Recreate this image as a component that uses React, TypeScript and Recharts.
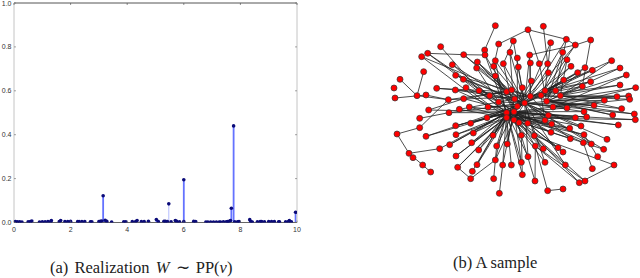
import React from "react";
import { ScatterChart, Scatter, XAxis, YAxis, ErrorBar, ReferenceLine } from "recharts";

const atomX = [0.05,0.12,0.2,0.28,0.5,0.58,0.63,0.9,1.0,1.1,1.2,1.3,1.32,1.6,1.65,1.8,1.9,2.0,2.25,2.3,2.4,2.5,2.7,2.75,3.0,3.05,3.1,3.15,3.22,3.28,3.45,3.88,3.95,4.18,4.3,4.35,4.5,4.6,4.75,5.03,5.1,5.3,5.35,5.42,5.55,5.7,5.75,5.85,6.0,6.0,6.35,6.42,6.78,6.85,6.95,7.05,7.15,7.25,7.3,7.4,7.5,7.55,7.6,7.65,7.68,7.76,7.8,7.9,7.95,8.33,8.37,8.42,8.6,8.7,8.75,8.85,9.0,9.1,9.2,9.35,9.38,9.6,9.7,9.73,9.8,9.95];
const atomW = [0.004,0.003,0.003,0.002,0.003,0.004,0.007,0.002,0.003,0.003,0.004,0.004,0.009,0.004,0.009,0.004,0.004,0.005,0.004,0.004,0.004,0.004,0.003,0.003,0.004,0.005,0.007,0.122,0.01,0.005,0.002,0.003,0.003,0.004,0.004,0.009,0.004,0.004,0.006,0.014,0.004,0.006,0.005,0.004,0.003,0.009,0.005,0.003,0.195,0.004,0.005,0.004,0.002,0.002,0.002,0.002,0.002,0.002,0.002,0.003,0.003,0.004,0.005,0.009,0.065,0.44,0.003,0.003,0.004,0.013,0.004,0.002,0.003,0.004,0.004,0.003,0.004,0.004,0.004,0.003,0.003,0.003,0.004,0.009,0.003,0.047];
const faintAtomX = [5.47];
const faintAtomW = [0.085];

const xTicks = [0, 2, 4, 6, 8, 10];
const yTicks = [0, 0.2, 0.4, 0.6, 0.8, 1];
const yTickLabels = ["0.0", "0.2", "0.4", "0.6", "0.8", "1.0"];

const nodeX = [346,444,490,559,632,586,512,400,356,314,315,182,143,125,251,390,449,548,412,346,292,217,370,341,290,451,478,503,561,573,415,615,637,593,505,695,720,739,131,227,346,60,250,454,551,632,720,767,607,42,170,226,258,297,380,395,427,495,527,45,111,138,205,251,329,404,451,483,541,711,746,749,673,356,434,500,642,146,238,268,324,412,519,561,725,207,380,402,612,586,620,698,763,766,119,321,380,402,417,443,495,505,515,272,227,119,569,603,715,51,138,228,280,339,424,463,513,612,571,681,610,634,671,534,549,490,466,382,350,296,275,209,179,87,99,128,152,228,233,291,277,272,346,341,368,394,424,444,495,556,653,637,702,615,598,427,465,358,503,549];
const nodeY = [17,29,19,58,60,75,68,63,72,90,105,80,100,110,104,97,105,97,114,122,126,134,131,139,144,129,131,131,119,139,141,143,151,158,158,122,144,165,155,166,168,178,178,183,180,185,195,203,199,204,205,210,203,212,215,210,203,212,212,234,227,225,239,236,227,237,229,226,227,230,228,238,241,246,249,244,256,270,268,261,261,259,261,264,266,278,278,275,275,293,291,285,282,299,295,293,293,300,308,310,301,286,312,310,317,323,325,318,315,342,349,344,339,346,346,347,337,344,356,358,368,372,388,383,396,386,378,372,378,390,368,374,386,400,413,435,456,408,442,434,454,476,420,476,435,435,427,410,427,435,410,446,435,483,488,464,483,520,512,507];

const edgeFrom = [0,9,1,1,1,2,3,3,4,4,5,6,7,7,8,10,10,11,12,12,13,14,15,16,16,17,18,19,20,20,21,22,23,24,25,26,27,28,29,30,31,32,33,34,35,36,37,38,39,40,41,42,43,44,45,46,47,48,50,51,52,53,54,55,56,57,58,59,60,61,62,63,64,69,70,71,72,76,77,78,79,80,83,84,85,88,89,90,91,92,93,94,95,97,98,99,100,101,102,103,104,105,106,107,108,109,109,110,111,112,113,114,115,116,117,118,119,120,121,122,122,123,124,125,126,127,128,129,130,131,132,132,133,135,137,138,139,140,141,141,142,144,145,146,147,148,149,150,151,152,152,153,154,155,156,157,158,158,
13,12,14,21,39,42,50,51,52,53,63,64,73,79,80,78,85,62,72,69,70,71,84,46,47,37,36,35,48,45,44,33,32,31,28,29,17,16,6,5,3,15,19,22,23,40,24,20,10,83,88,89,90,91,92,93,76,77,82,100,101,102,116,117,118,120,121,123,124,125,126,127,113,112,130,131,129,128,138,139,142,144,146,147,148,149,155,156,153,154,143,137,110,111,106,107,108,103,104,95,98,99,97,96,86,87,81,65,66,75,74,96];
const edgeTo = [9,10,8,3,26,27,5,58,5,48,67,57,22,74,23,14,86,53,14,64,80,65,87,5,74,75,81,96,74,54,64,87,86,73,66,75,81,68,67,74,75,66,57,87,68,75,82,60,65,65,60,74,87,74,66,68,82,75,54,65,73,86,87,66,81,67,74,61,62,62,66,54,87,75,68,67,82,75,63,65,96,81,74,75,74,87,87,86,75,74,86,85,74,74,86,87,67,66,86,74,87,62,86,74,87,105,133,74,87,86,86,87,74,87,86,96,74,87,87,74,120,96,87,86,86,86,87,86,96,86,74,133,135,136,96,87,86,86,138,142,97,86,96,87,86,86,86,117,120,115,154,126,126,114,126,144,126,159,
54,86,74,81,66,87,66,86,96,74,87,74,74,87,75,96,86,54,75,66,75,82,68,67,75,68,66,57,66,57,67,67,74,57,75,74,67,66,74,74,66,74,74,74,74,87,54,65,54,86,74,96,87,66,75,96,74,87,87,96,87,96,86,96,74,96,74,87,86,87,87,87,87,96,86,74,87,86,96,96,86,87,86,74,74,74,86,87,115,115,128,74,86,96,96,86,86,86,86,86,87,86,86,87,74,74,74,74,74,67,67,74];

const atoms = atomX.map((x, i) => ({ x, w: atomW[i], stem: [atomW[i], 0] }));
const faintAtoms = faintAtomX.map((x, i) => ({ x, w: faintAtomW[i], stem: [faintAtomW[i], 0] }));
const nodes = nodeX.map((x, i) => ({ x, y: nodeY[i] }));
const edges = edgeFrom.map((a, i) => [a, edgeTo[i]]);

const ink = "#333";

const BottomTick = (p: any) => (
  <g>
    <line x1={p.x} x2={p.x} y1={p.y} y2={p.y - 2} stroke="#666" strokeWidth={0.6} />
    <text x={p.x} y={p.y + 9.5} textAnchor="middle" fontSize={7} fill={ink} fontFamily="'Liberation Sans', Arial, sans-serif">{p.payload.value}</text>
  </g>
);
const LeftTick = (p: any) => (
  <g>
    <line x1={p.x} x2={p.x + 2} y1={p.y} y2={p.y} stroke="#666" strokeWidth={0.6} />
    <text x={p.x - 2.5} y={p.y + 2.5} textAnchor="end" fontSize={7} fill={ink} fontFamily="'Liberation Sans', Arial, sans-serif">
      {yTickLabels[yTicks.indexOf(p.payload.value)]}
    </text>
  </g>
);
const TopTick = (p: any) => <line x1={p.x} x2={p.x} y1={p.y} y2={p.y + 2} stroke="#444" strokeWidth={0.6} />;
const RightTick = (p: any) => <line x1={p.x} x2={p.x - 2} y1={p.y} y2={p.y} stroke="#666" strokeWidth={0.6} />;
const NoMark = () => null;

const Atom = (p: any) => <circle cx={p.cx} cy={p.cy} r={1.8} fill="#0a0a78" />;
const GraphNode = (p: any) => <circle cx={p.cx} cy={p.cy} r={3} fill="#ff0000" stroke="#333" strokeWidth={0.7} />;

const captionStyle: React.CSSProperties = {
  position: "absolute",
  fontFamily: "'Liberation Serif', 'Times New Roman', serif",
  fontSize: 16.5,
  color: "#222",
  whiteSpace: "nowrap",
  lineHeight: "18px",
};

export default function App() {
  return (
    <div style={{ position: "absolute", left: 0, top: 0, width: 640, height: 278, overflow: "hidden", background: "#fff" }}>
      <div style={{ position: "absolute", left: 0, top: 0 }}>
        <ScatterChart width={320} height={278} margin={{ top: 2, right: 22, bottom: 45.5, left: 0 }}>
          <XAxis xAxisId="b" dataKey="x" type="number" domain={[0, 10]} ticks={xTicks} height={10} interval={0} tick={BottomTick} tickLine={false} tickSize={0} tickMargin={0} axisLine={{ stroke: "#666", strokeWidth: 1 }} allowDataOverflow />
          <XAxis xAxisId="t" dataKey="x" orientation="top" type="number" domain={[0, 10]} ticks={xTicks} height={1} interval={0} tick={TopTick} tickLine={false} tickSize={0} tickMargin={0} axisLine={{ stroke: "#555", strokeWidth: 1 }} allowDataOverflow />
          <YAxis yAxisId="l" dataKey="w" type="number" domain={[0, 1]} ticks={yTicks} width={14} interval={0} tick={LeftTick} tickLine={false} tickSize={0} tickMargin={0} axisLine={{ stroke: "#c4c4c4", strokeWidth: 1 }} allowDataOverflow />
          <YAxis yAxisId="r" dataKey="w" orientation="right" type="number" domain={[0, 1]} ticks={yTicks} width={1} interval={0} tick={RightTick} tickLine={false} tickSize={0} tickMargin={0} axisLine={{ stroke: "#c4c4c4", strokeWidth: 1 }} allowDataOverflow />
          <Scatter data={atoms} xAxisId="t" yAxisId="r" shape={NoMark} isAnimationActive={false} />
          <Scatter data={faintAtoms} xAxisId="b" yAxisId="l" shape={Atom} isAnimationActive={false}>
            <ErrorBar dataKey="stem" direction="y" width={0} stroke="#b4bcff" strokeWidth={1} isAnimationActive={false} />
          </Scatter>
          <Scatter data={atoms} xAxisId="b" yAxisId="l" shape={Atom} isAnimationActive={false}>
            <ErrorBar dataKey="stem" direction="y" width={0} stroke="#6472ff" strokeWidth={1.8} isAnimationActive={false} />
          </Scatter>
        </ScatterChart>
      </div>
      <div style={{ ...captionStyle, left: 50, top: 259, wordSpacing: 2 }}>
        (a) Realization <i>W</i> ∼ PP(<i>ν</i>)
      </div>
      <div style={{ position: "absolute", left: 380, top: 20 }}>
        <ScatterChart width={260} height={220} margin={{ top: 0, right: 0, bottom: 0, left: 0 }}>
          <XAxis dataKey="x" type="number" domain={[0, 780]} hide />
          <YAxis dataKey="y" type="number" domain={[0, 660]} reversed hide />
          <Scatter data={nodes} shape={NoMark} isAnimationActive={false} />
          {edges.map(([a, b], i) => (
            <ReferenceLine
              key={i}
              segment={[{ x: nodeX[a], y: nodeY[a] }, { x: nodeX[b], y: nodeY[b] }]}
              stroke="#222"
              strokeWidth={1}
              strokeOpacity={0.8}
            />
          ))}
        </ScatterChart>
      </div>
      <div style={{ position: "absolute", left: 380, top: 20 }}>
        <ScatterChart width={260} height={220} margin={{ top: 0, right: 0, bottom: 0, left: 0 }}>
          <XAxis dataKey="x" type="number" domain={[0, 780]} hide />
          <YAxis dataKey="y" type="number" domain={[0, 660]} reversed hide />
          <Scatter data={nodes} shape={GraphNode} isAnimationActive={false} />
        </ScatterChart>
      </div>
      <div style={{ ...captionStyle, left: 453, top: 254 }}>(b) A sample</div>
    </div>
  );
}
